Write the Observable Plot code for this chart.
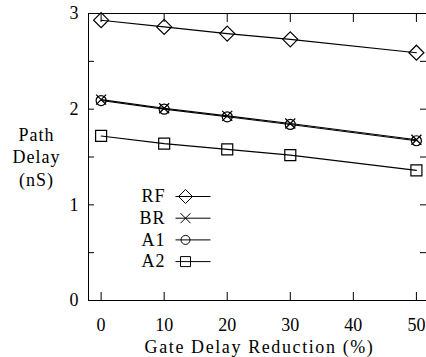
<!DOCTYPE html>
<html><head><meta charset="utf-8">
<script src="https://cdn.jsdelivr.net/npm/d3@7"></script>
<script src="https://cdn.jsdelivr.net/npm/@observablehq/plot@0.6"></script>
<style>
html,body{margin:0;padding:0;background:#fff;font-family:"Liberation Serif",serif;}
</style></head><body><div id="chart"></div><div id="after" style="height:1px">&nbsp;</div>
<script>
// ---- data ----
const xValues = [0, 10, 20, 30, 50];
const seriesNames = ["RF", "BR", "A1", "A2"];
const rfDelay = [2.93, 2.86, 2.79, 2.73, 2.59];
const brDelay = [2.10, 2.01, 1.93, 1.85, 1.68];
const a1Delay = [2.09, 2.00, 1.92, 1.84, 1.67];
const a2Delay = [1.72, 1.64, 1.58, 1.52, 1.36];
const xTicks = [0, 10, 20, 30, 40, 50];
const yTicks = [0, 0.5, 1, 1.5, 2, 2.5, 3];
const yTickLabels = [0, 1, 2, 3];
const xLabel = "Gate Delay Reduction (%)";
const yLabel = "Path\nDelay\n(nS)";

const seriesValues = {RF: rfDelay, BR: brDelay, A1: a1Delay, A2: a2Delay};
const rows = seriesNames.flatMap(s => xValues.map((x, i) => ({series: s, x, y: seriesValues[s][i]})));

// ---- symbols ----
const shapes = {
  RF: (c, h) => { c.moveTo(0, -h); c.lineTo(h, 0); c.lineTo(0, h); c.lineTo(-h, 0); c.closePath(); },
  BR: (c, h) => { c.moveTo(-h, -h); c.lineTo(h, h); c.moveTo(h, -h); c.lineTo(-h, h); },
  A1: (c, h) => { c.moveTo(h, 0); c.arc(0, 0, h, 0, 2 * Math.PI); },
  A2: (c, h) => { c.rect(-h, -h, 2 * h, 2 * h); }
};
const markerR = {RF: 7.5, BR: 5, A1: 5, A2: 5.5};
const legendR = {RF: 7, BR: 5, A1: 4.5, A2: 5};
const symbolOf = s => ({draw(c, size) { shapes[s](c, Math.sqrt(size / Math.PI)); }});
const legendSymbolOf = s => ({draw(c, size) {
  c.moveTo(-10, 0); c.lineTo(25, 0);
  shapes[s](c, Math.sqrt(size / Math.PI));
}});

const font = "Liberation Serif";
const fs = 18;

const marks = [
  Plot.ruleX([-2], {stroke: "black", strokeWidth: 1}),
  Plot.ruleY([0, 3], {stroke: "black", strokeWidth: 1}),
  Plot.ruleX(xTicks, {x: d => d, y1: 0, y2: 0, insetTop: -8, stroke: "black"}),
  Plot.ruleX(xTicks, {x: d => d, y1: 3, y2: 3, insetBottom: -9, stroke: "black"}),
  Plot.ruleY(yTicks, {y: d => d, x1: -2, x2: -2, insetRight: -6, stroke: "black"}),
  Plot.ruleY(yTicks, {y: d => d, x1: 51.6, x2: 51.6, insetLeft: -6, stroke: "black"}),
  Plot.axisX(xTicks, {tickSize: 0, tickPadding: 18, label: null, tickFormat: "d", fontSize: fs, fontFamily: font}),
  Plot.axisY(yTickLabels, {tickSize: 0, tickPadding: 10, label: null, tickFormat: "d", fontSize: fs, fontFamily: font}),
  Plot.text([xLabel], {frameAnchor: "bottom", dy: 47, dx: 2, lineAnchor: "middle", fontSize: fs, fontFamily: font}),
  Plot.text([yLabel], {frameAnchor: "left", dx: -52, dy: -1, lineAnchor: "middle", textAnchor: "middle", lineHeight: 1.25, fontSize: fs, fontFamily: font}),
  Plot.line(rows, {x: "x", y: "y", z: "series", stroke: "black", strokeWidth: 1.1}),
  ...seriesNames.map(s => Plot.dot(rows.filter(d => d.series === s), {x: "x", y: "y", symbol: symbolOf(s), r: markerR[s], stroke: "black", fill: "none", strokeWidth: 1.2})),
  ...seriesNames.map((s, i) => Plot.text([s], {frameAnchor: "top-left", dx: 77, dy: 183 + i * 21.7, textAnchor: "end", lineAnchor: "middle", fontSize: fs, fontFamily: font})),
  ...seriesNames.map((s, i) => Plot.dot([s], {frameAnchor: "top-left", dx: 97, dy: 183 + i * 21.7, symbol: legendSymbolOf(s), r: legendR[s], stroke: "black", fill: "none", strokeWidth: 1}))
];

const chart = Plot.plot({
  width: 426,
  height: 357,
  marginLeft: 88,
  marginRight: 0,
  marginTop: 13,
  marginBottom: 57,
  x: {domain: [-2, 51.6], axis: null},
  y: {domain: [0, 3], axis: null},
  marks
});
document.getElementById("chart").appendChild(chart);

for (const t of chart.querySelectorAll("text")) {
  if (t.textContent === xLabel) t.setAttribute("letter-spacing", "1.6");
  else if (/[A-Za-z]/.test(t.textContent)) t.setAttribute("letter-spacing", "1");
}
</script>
</body></html>
